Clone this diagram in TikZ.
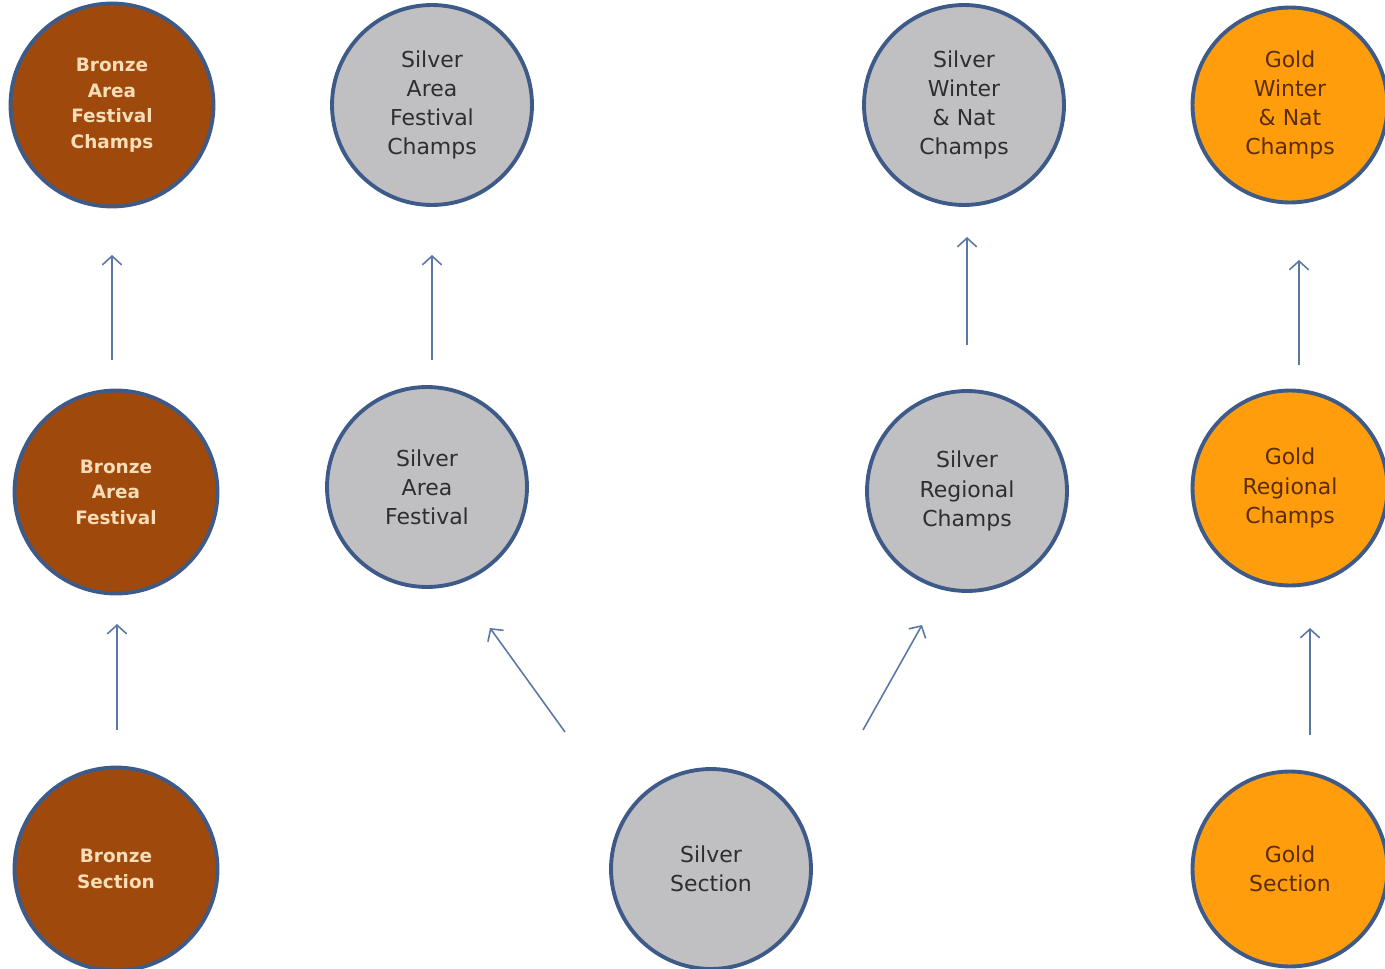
\documentclass[tikz,border=0pt]{standalone}
\usepackage{fontspec}
\setmainfont{DejaVu Sans}
\usetikzlibrary{arrows.meta}
\definecolor{bronzefill}{HTML}{A0490C}
\definecolor{bronzetext}{HTML}{F7DDB8}
\definecolor{silverfill}{HTML}{C0C0C2}
\definecolor{silvertext}{HTML}{2E2E2E}
\definecolor{goldfill}{HTML}{FF9D0C}
\definecolor{goldtext}{HTML}{5A2C08}
\definecolor{ringcol}{HTML}{3D5A88}
\definecolor{arrcol}{HTML}{5A78A6}
\tikzset{
  disc/.style={circle, draw=ringcol, line width=2.2pt, minimum size=4cm, inner sep=0pt, align=center},
  bronze/.style={disc, fill=bronzefill, text=bronzetext, font=\bfseries\fontsize{10.5}{14.5}\selectfont, minimum size=4.06cm},
  silver/.style={disc, fill=silverfill, text=silvertext, font=\fontsize{12.5}{16.6}\selectfont},
  gold/.style={disc, fill=goldfill, text=goldtext, font=\fontsize{12.5}{16.6}\selectfont, minimum size=3.9cm},
  arr/.style={draw=arrcol, line width=0.9pt, -{Straight Barb[length=5pt,width=11pt,line width=0.9pt]}}
}
\begin{document}
\begin{tikzpicture}[x=0.02cm, y=-0.02cm]
\useasboundingbox (0,0) rectangle (1385,969);
\clip (0,0) rectangle (1385,969);
% nodes
\node[bronze] (bchamp) at (112,105) {Bronze\\Area\\Festival\\Champs};
\node[bronze] (bfest) at (116,492) {Bronze\\Area\\Festival};
\node[bronze] (bsec) at (116,869) {Bronze\\Section};
\node[silver] (schamp) at (432,105) {Silver\\Area\\Festival\\Champs};
\node[silver] (sfest) at (427,487) {Silver\\Area\\Festival};
\node[silver] (ssec) at (711,869) {Silver\\Section};
\node[silver] (sreg) at (967,491) {Silver\\Regional\\Champs};
\node[silver] (swin) at (964,105) {Silver\\Winter\\\& Nat\\Champs};
\node[gold] (gwin) at (1290,105) {Gold\\Winter\\\& Nat\\Champs};
\node[gold] (greg) at (1290,488) {Gold\\Regional\\Champs};
\node[gold] (gsec) at (1290,869) {Gold\\Section};
% arrow end points
\coordinate (a1s) at (112,360); \coordinate (a1e) at (112,255);
\coordinate (a2s) at (117,730); \coordinate (a2e) at (117,624);
\coordinate (a3s) at (432,360); \coordinate (a3e) at (432,255);
\coordinate (a4s) at (565,732); \coordinate (a4e) at (490,628);
\coordinate (a5s) at (863,730); \coordinate (a5e) at (922,625);
\coordinate (a6s) at (967,345); \coordinate (a6e) at (967,237);
\coordinate (a7s) at (1299,365); \coordinate (a7e) at (1299,260);
\coordinate (a8s) at (1310,735); \coordinate (a8e) at (1310,628);
\draw[arr] (a1s) -- (a1e);
\draw[arr] (a2s) -- (a2e);
\draw[arr] (a3s) -- (a3e);
\draw[arr] (a4s) -- (a4e);
\draw[arr] (a5s) -- (a5e);
\draw[arr] (a6s) -- (a6e);
\draw[arr] (a7s) -- (a7e);
\draw[arr] (a8s) -- (a8e);
\end{tikzpicture}
\end{document}
